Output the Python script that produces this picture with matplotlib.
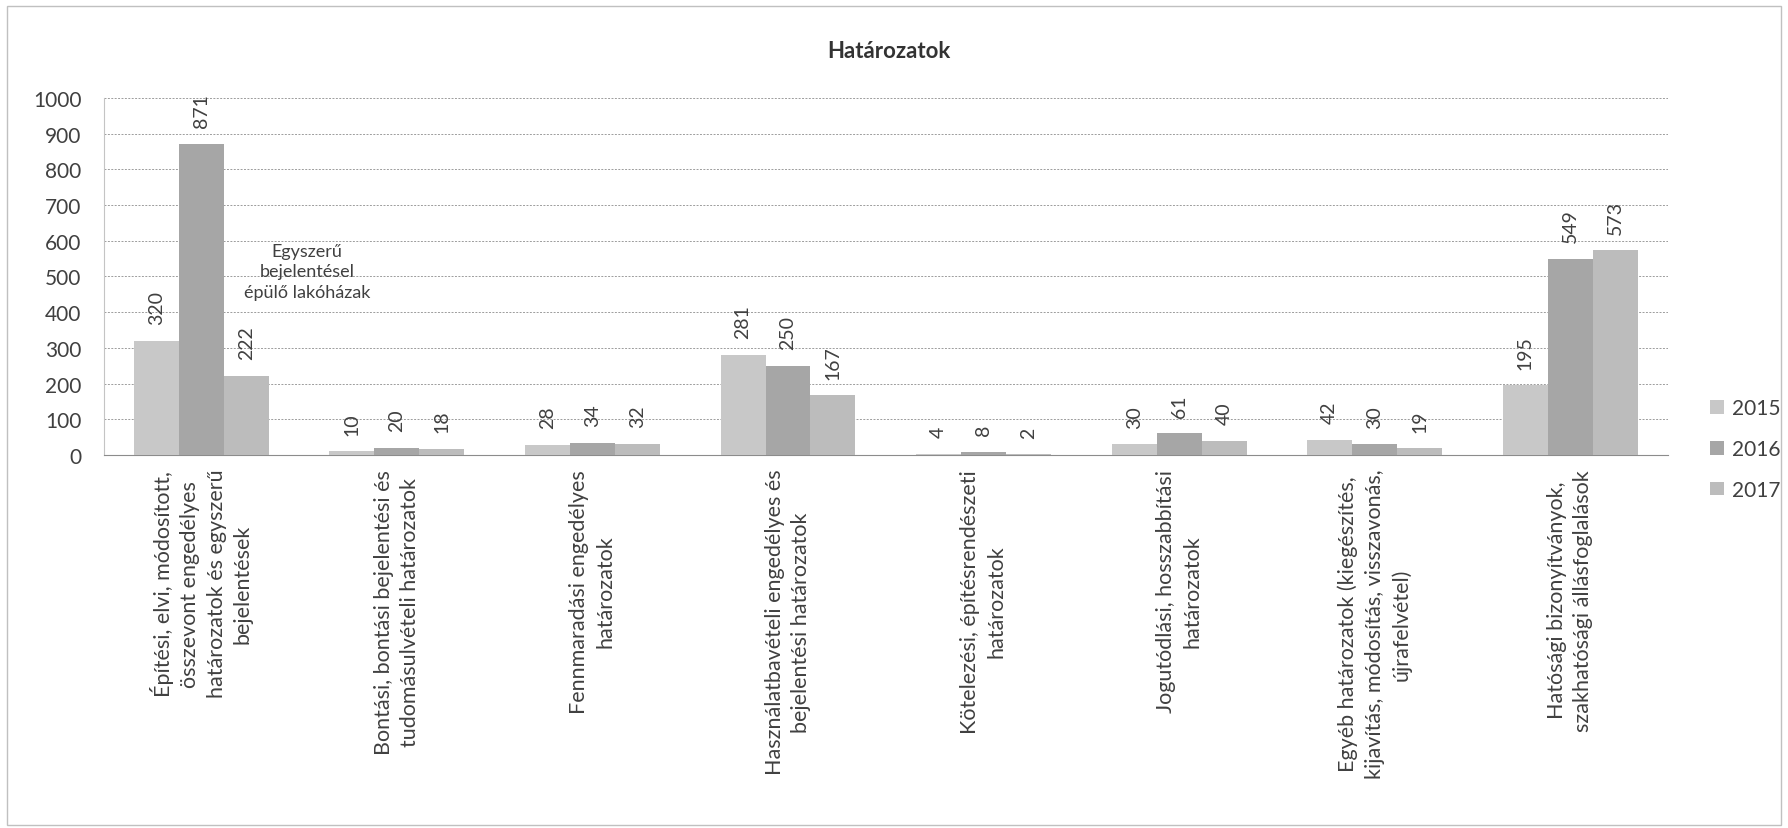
import matplotlib
matplotlib.use("Agg")
import matplotlib.pyplot as plt
from matplotlib.patches import Rectangle
import numpy as np

plt.rcParams["font.family"] = ["Lato", "DejaVu Sans"]

# Data
categories = [
    "Építési, elvi, módosított,\nösszevont engedélyes\nhatározatok és egyszerű\nbejelentések",
    "Bontási, bontási bejelentési és\ntudomásulvételi határozatok",
    "Fennmaradási engedélyes\nhatározatok",
    "Használatbavételi engedélyes és\nbejelentési határozatok",
    "Kötelezési, építésrendészeti\nhatározatok",
    "Jogutódlási, hosszabbítási\nhatározatok",
    "Egyéb határozatok (kiegészítés,\nkijavítás, módosítás, visszavonás,\nújrafelvétel)",
    "Hatósági bizonyítványok,\nszakhatósági állásfoglalások",
]
years = ["2015", "2016", "2017"]
v2015 = [320, 10, 28, 281, 4, 30, 42, 195]
v2016 = [871, 20, 34, 250, 8, 61, 30, 549]
v2017 = [222, 18, 32, 167, 2, 40, 19, 573]
yticks = [0, 100, 200, 300, 400, 500, 600, 700, 800, 900, 1000]

title = "Határozatok"
note = "Egyszerű\nbejelentésel\népülő lakóházak"

colors = ["#c8c8c8", "#a6a6a6", "#bcbcbc"]
text_col = "#404040"

fig = plt.figure(figsize=(17.88, 8.29), dpi=100)
fig.patch.set_facecolor("white")
ax = fig.add_axes([0.0579, 0.450, 0.875, 0.4306])

x = np.arange(len(categories))
w = 0.23
series = [v2015, v2016, v2017]
for i, (yr, vals) in enumerate(zip(years, series)):
    bars = ax.bar(x + (i - 1) * w, vals, w, color=colors[i], label=yr,
                  edgecolor="none", zorder=3)
    ax.bar_label(bars, labels=[str(v) for v in vals], rotation=90,
                 padding=12, fontsize=14, color=text_col)

ax.set_xlim(-0.5, len(categories) - 0.5)
ax.set_ylim(0, 1000)
ax.set_yticks(yticks)
ax.set_yticklabels([str(t) for t in yticks], fontsize=15, color=text_col)
ax.set_xticks(x)
ax.set_xticklabels(categories, rotation=90, ha="center", va="top",
                   multialignment="center", fontsize=15.5, color=text_col)
for lbl in ax.get_xticklabels():
    lbl.set_linespacing(1.4)
ax.tick_params(axis="y", length=0, pad=16)
ax.tick_params(axis="x", length=0, pad=10)

ax.grid(axis="y", color="#9c9c9c", linewidth=0.7, linestyle=(0, (2, 1.5)), zorder=0)
for s in ["top", "right"]:
    ax.spines[s].set_visible(False)
ax.spines["bottom"].set_color("#8c8c8c")
ax.spines["left"].set_color("#c4c4c4")
ax.set_axisbelow(True)

ax.text(0.54, 515, note, ha="center", va="center", fontsize=13,
        color=text_col, linespacing=1.35)

fig.text(0.497, 0.938, title, ha="center", va="center", fontsize=16,
         fontweight="bold", color="#333333")

ax.legend(loc="center left", bbox_to_anchor=(1700 / 1788, 1 - 450 / 829),
          bbox_transform=fig.transFigure, frameon=False, fontsize=15,
          labelcolor=text_col, handlelength=0.65, handleheight=0.65,
          handletextpad=0.4, labelspacing=1.0, borderpad=0)

fig.patches.append(Rectangle((0.004, 0.004), 0.992, 0.988, transform=fig.transFigure,
                             fill=False, edgecolor="#c0c0c0", linewidth=1.0))

fig.savefig("out.png", dpi=100, facecolor="white")
